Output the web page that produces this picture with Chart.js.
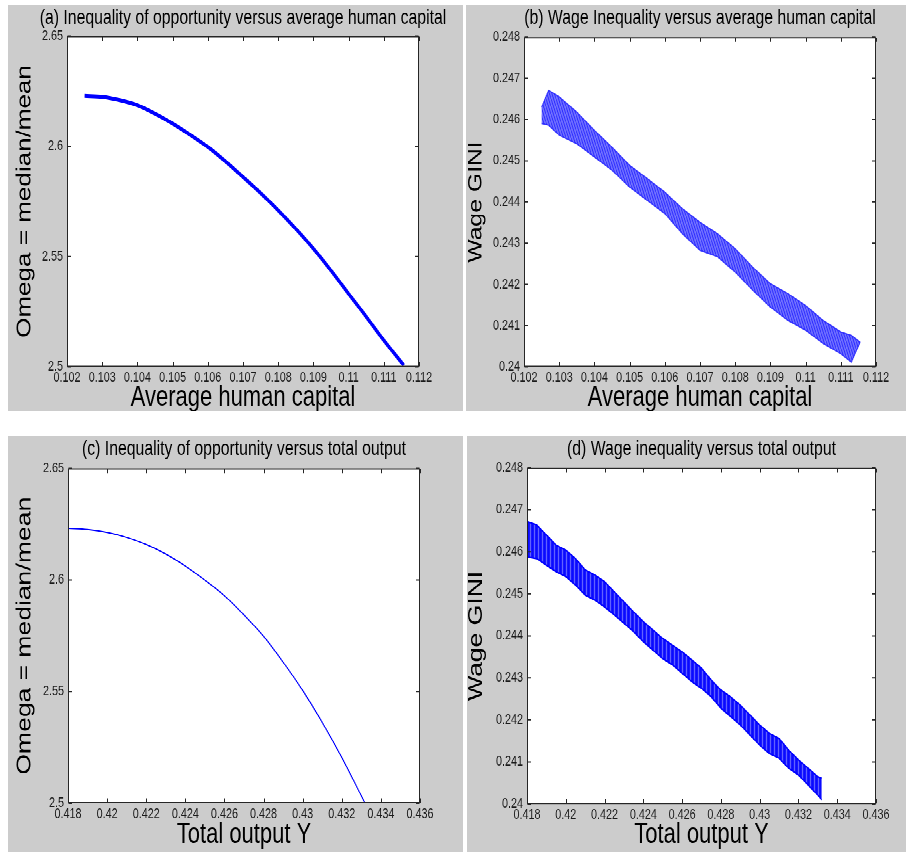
<!DOCTYPE html>
<html>
<head>
<meta charset="utf-8">
<script src="https://cdn.jsdelivr.net/npm/chart.js@4.4.0/dist/chart.umd.min.js"></script>
<style>
  body { margin: 0; background: #ffffff; width: 906px; height: 852px; position: relative; overflow: hidden; }
  /* the source figure is stretched vertically, so each panel is drawn short and scaled up */
  .panel { position: absolute; background: #cccccc; transform-origin: 0 0; }
  .panel canvas { display: block; }
</style>
</head>
<body>
<div class="panel" style="left:8px;top:5px;width:455px;height:312px;transform:scaleY(1.30128)"><canvas id="chartA"></canvas></div>
<div class="panel" style="left:466px;top:5px;width:440px;height:312px;transform:scaleY(1.30128)"><canvas id="chartB"></canvas></div>
<div class="panel" style="left:8px;top:436px;width:455px;height:320px;transform:scaleY(1.3)"><canvas id="chartC"></canvas></div>
<div class="panel" style="left:467px;top:436px;width:439px;height:320px;transform:scaleY(1.3)"><canvas id="chartD"></canvas></div>
<script>
// (a) Omega vs average human capital
const capitalA = [0.1025, 0.1030, 0.1035, 0.1040, 0.1045, 0.1050, 0.1055, 0.1060, 0.1065, 0.1070,
                  0.1075, 0.1080, 0.1085, 0.1090, 0.1095, 0.1100, 0.1105, 0.1110, 0.11157];
const omegaA = [2.6228, 2.6224, 2.6209, 2.6186, 2.6148, 2.6103, 2.6052, 2.5997, 2.5932, 2.5861,
                2.5788, 2.5710, 2.5626, 2.5536, 2.5437, 2.5332, 2.5228, 2.5121, 2.5008];

// (b) wage GINI band vs average human capital (upper / lower edge of the scatter)
const capitalB = [0.1025, 0.1027, 0.1030, 0.1035, 0.1040, 0.1045, 0.1050, 0.1055, 0.1060, 0.1065, 0.1070,
                  0.1075, 0.1080, 0.1085, 0.1090, 0.1095, 0.1100, 0.1105, 0.1110, 0.1113, 0.11155];
const giniUpperB = [0.2463, 0.24671, 0.24655, 0.24618, 0.24574, 0.24533, 0.24489, 0.24457, 0.24424, 0.24384, 0.24351,
                    0.24323, 0.24287, 0.24242, 0.24202, 0.24178, 0.24149, 0.24113, 0.24085, 0.24077, 0.2406];
const giniLowerB = [0.2459, 0.24586, 0.24562, 0.24541, 0.24509, 0.24477, 0.24436, 0.24404, 0.24372, 0.24323, 0.24283,
                    0.24267, 0.2423, 0.24186, 0.24145, 0.24113, 0.24089, 0.24057, 0.24032, 0.24012, 0.2406];

// (c) Omega vs total output
const outputC = [0.418, 0.419, 0.420, 0.421, 0.422, 0.423, 0.424, 0.425, 0.426, 0.427,
                 0.428, 0.429, 0.430, 0.431, 0.432, 0.433, 0.43319];
const omegaC = [2.6231, 2.6226, 2.6213, 2.6190, 2.6159, 2.6116, 2.6062, 2.5999, 2.5929, 2.5843,
                2.5748, 2.5632, 2.5505, 2.5362, 2.5205, 2.5033, 2.5000];

// (d) wage GINI band vs total output
const outputD = [0.418, 0.4185, 0.419, 0.4195, 0.420, 0.4205, 0.421, 0.4215, 0.422, 0.4225, 0.423,
                 0.4235, 0.424, 0.4245, 0.425, 0.4255, 0.426, 0.4265, 0.427, 0.4275, 0.428,
                 0.4285, 0.429, 0.4295, 0.430, 0.4305, 0.431, 0.4315, 0.432, 0.4325, 0.433, 0.4332];
const giniUpperD = [0.24672, 0.24664, 0.2464, 0.24616, 0.24604, 0.24584, 0.24557, 0.24545, 0.24529, 0.24505, 0.24481,
                    0.24457, 0.24434, 0.24414, 0.24394, 0.24378, 0.24362, 0.24343, 0.24323, 0.24295, 0.24271,
                    0.24255, 0.24235, 0.24212, 0.24188, 0.24168, 0.24156, 0.24128, 0.24105, 0.24085, 0.24065, 0.24061];
const giniLowerD = [0.24588, 0.24584, 0.24568, 0.24553, 0.24541, 0.24521, 0.24497, 0.24485, 0.24469, 0.2445, 0.2443,
                    0.2441, 0.24386, 0.24366, 0.24346, 0.24331, 0.24311, 0.24291, 0.24275, 0.24255, 0.24228,
                    0.24208, 0.24188, 0.24164, 0.2414, 0.2412, 0.24109, 0.24085, 0.24069, 0.24045, 0.24021, 0.2401];

// tick values and labels
const capitalTicks = [0.102, 0.103, 0.104, 0.105, 0.106, 0.107, 0.108, 0.109, 0.110, 0.111, 0.112];
const capitalLabels = ['0.102', '0.103', '0.104', '0.105', '0.106', '0.107', '0.108', '0.109', '0.11', '0.111', '0.112'];
const outputTicks = [0.418, 0.420, 0.422, 0.424, 0.426, 0.428, 0.430, 0.432, 0.434, 0.436];
const outputLabels = ['0.418', '0.42', '0.422', '0.424', '0.426', '0.428', '0.43', '0.432', '0.434', '0.436'];
const omegaTicks = [2.5, 2.55, 2.6, 2.65];
const omegaLabels = ['2.5', '2.55', '2.6', '2.65'];
const giniTicks = [0.240, 0.241, 0.242, 0.243, 0.244, 0.245, 0.246, 0.247, 0.248];
const giniLabels = ['0.24', '0.241', '0.242', '0.243', '0.244', '0.245', '0.246', '0.247', '0.248'];

const FONT = "'Liberation Sans', Arial, sans-serif";
const BLUE = '#0000ff';

function pts(xs, ys) {
    return xs.map((x, i) => ({ x: x, y: ys[i] }));
}

// small tiled texture so the dense scatter bands don't look like flat fills
function hatch(bg, stroke, w, h, segs) {
    const c = document.createElement('canvas');
    c.width = w; c.height = h;
    const g = c.getContext('2d');
    g.fillStyle = bg;
    g.fillRect(0, 0, w, h);
    g.strokeStyle = stroke;
    g.lineWidth = 1;
    g.beginPath();
    segs.forEach(s => { g.moveTo(s[0], s[1]); g.lineTo(s[2], s[3]); });
    g.stroke();
    return g.createPattern(c, 'repeat');
}

// white plot box with matlab-style inward ticks on all four sides
const plotFrame = {
    id: 'plotFrame',
    beforeDraw(chart) {
        const { ctx, chartArea: a } = chart;
        ctx.save();
        ctx.fillStyle = '#ffffff';
        ctx.fillRect(a.left, a.top, a.right - a.left, a.bottom - a.top);
        ctx.restore();
    },
    afterDraw(chart) {
        const { ctx, chartArea: a, scales } = chart;
        const L = a.left + 0.5, R = a.right - 0.5, T = a.top + 0.5, B = a.bottom - 0.5;
        ctx.save();
        ctx.strokeStyle = '#262626';
        ctx.lineWidth = 1;
        ctx.beginPath();
        scales.x.ticks.forEach(t => {
            const px = Math.round(scales.x.getPixelForValue(t.value)) + 0.5;
            ctx.moveTo(px, B); ctx.lineTo(px, B - 3.3);
            ctx.moveTo(px, T); ctx.lineTo(px, T + 3.3);
        });
        scales.y.ticks.forEach(t => {
            const py = scales.y.getPixelForValue(t.value);
            ctx.moveTo(L, py); ctx.lineTo(L + 3.5, py);
            ctx.moveTo(R, py); ctx.lineTo(R - 3.5, py);
        });
        ctx.rect(L, T, R - L, B - T);
        ctx.stroke();
        ctx.restore();
    }
};

// panel caption centred over the plot box (it is wider than the box, so not clipped to it)
const panelTitle = {
    id: 'panelTitle',
    afterDraw(chart, args, opts) {
        const { ctx, chartArea: a } = chart;
        ctx.save();
        ctx.font = '15.8px ' + FONT;
        ctx.fillStyle = '#000000';
        ctx.textAlign = 'center';
        ctx.textBaseline = 'alphabetic';
        ctx.fillText(opts.text, (a.left + a.right) / 2, opts.y);
        ctx.restore();
    }
};

function makePanel(id, o) {
    return new Chart(document.getElementById(id), {
        type: 'line',
        data: { datasets: o.datasets },
        options: {
            responsive: true,
            maintainAspectRatio: false,
            animation: false,
            devicePixelRatio: 2,
            layout: { padding: { top: o.padTop, right: o.padRight } },
            plugins: {
                legend: { display: false },
                tooltip: { enabled: false },
                title: { display: false },
                panelTitle: { text: o.title, y: 14.5 }
            },
            scales: {
                x: {
                    type: 'linear',
                    min: o.xTicks[0],
                    max: o.xTicks[o.xTicks.length - 1],
                    afterBuildTicks: s => { s.ticks = o.xTicks.map(v => ({ value: v })); },
                    afterFit: s => { s.height = o.xHeight; },
                    grid: { display: false, drawTicks: false },
                    border: { display: false },
                    ticks: {
                        autoSkip: false, maxRotation: 0, padding: 2, color: '#1a1a1a',
                        font: { family: FONT, size: 10.8 },
                        callback: (v, i) => o.xLabels[i]
                    },
                    title: {
                        display: true, text: o.xTitle, color: '#000000',
                        font: { family: FONT, size: 22, lineHeight: '20px' },
                        padding: { top: 0, bottom: o.xTitlePad }
                    }
                },
                y: {
                    type: 'linear',
                    min: o.yTicks[0],
                    max: o.yTicks[o.yTicks.length - 1],
                    afterBuildTicks: s => { s.ticks = o.yTicks.map(v => ({ value: v })); },
                    afterFit: s => { s.width = o.yWidth; },
                    grid: { display: false, drawTicks: false },
                    border: { display: false },
                    ticks: {
                        autoSkip: false, padding: 4, color: '#1a1a1a',
                        font: { family: FONT, size: 10.8 },
                        callback: (v, i) => o.yLabels[i]
                    },
                    title: {
                        display: true, text: o.yTitle, color: '#000000',
                        font: { family: FONT, size: o.yTitleSize, lineHeight: '18px' },
                        padding: { top: o.yTitlePad, bottom: 0 }
                    }
                }
            }
        },
        plugins: [plotFrame, panelTitle]
    });
}

const hatchB = hatch('rgba(60, 60, 255, 0.6)', 'rgba(0, 0, 255, 0.95)', 5, 6, [[0, 0, 2.5, 6], [2.5, 0, 5, 6]]);
const hatchD = hatch('#0a0aff', 'rgba(140, 140, 255, 0.9)', 4, 4, [[3.5, 0, 3.5, 4]]);

makePanel('chartA', {
    title: '(a) Inequality of opportunity versus average human capital',
    xTitle: 'Average human capital', yTitle: 'Omega = median/mean', yTitleSize: 20,
    xTicks: capitalTicks, xLabels: capitalLabels, yTicks: omegaTicks, yLabels: omegaLabels,
    yWidth: 59, xHeight: 33.8, padTop: 23.8, padRight: 44, xTitlePad: 0, yTitlePad: 8,
    datasets: [{
        data: pts(capitalA, omegaA), borderColor: BLUE, borderWidth: 3,
        pointRadius: 0, cubicInterpolationMode: 'monotone', fill: false
    }]
});

makePanel('chartB', {
    title: '(b) Wage Inequality versus average human capital',
    xTitle: 'Average human capital', yTitle: 'Wage GINI', yTitleSize: 19,
    xTicks: capitalTicks, xLabels: capitalLabels, yTicks: giniTicks, yLabels: giniLabels,
    yWidth: 58, xHeight: 33.8, padTop: 24.6, padRight: 30, xTitlePad: 0, yTitlePad: 1.5,
    datasets: [{
        data: pts(capitalB, giniUpperB), borderColor: 'rgba(30, 30, 255, 0.8)', borderWidth: 1,
        pointRadius: 0, tension: 0, fill: false
    }, {
        data: pts(capitalB, giniLowerB), borderColor: 'rgba(30, 30, 255, 0.8)', borderWidth: 1,
        pointRadius: 0, tension: 0, fill: '-1', backgroundColor: hatchB
    }]
});

makePanel('chartC', {
    title: '(c) Inequality of opportunity versus total output',
    xTitle: 'Total output Y', yTitle: 'Omega = median/mean', yTitleSize: 20.4,
    xTicks: outputTicks, xLabels: outputLabels, yTicks: omegaTicks, yLabels: omegaLabels,
    yWidth: 60, xHeight: 37.5, padTop: 24.8, padRight: 43, xTitlePad: 3, yTitlePad: 8,
    datasets: [{
        data: pts(outputC, omegaC), borderColor: BLUE, borderWidth: 1,
        pointRadius: 0, cubicInterpolationMode: 'monotone', fill: false
    }]
});

makePanel('chartD', {
    title: '(d) Wage inequality versus total output',
    xTitle: 'Total output Y', yTitle: 'Wage GINI', yTitleSize: 20.4,
    xTicks: outputTicks, xLabels: outputLabels, yTicks: giniTicks, yLabels: giniLabels,
    yWidth: 60, xHeight: 36.9, padTop: 24.4, padRight: 30, xTitlePad: 3, yTitlePad: 0.5,
    datasets: [{
        data: pts(outputD, giniUpperD), borderColor: BLUE, borderWidth: 1.2,
        pointRadius: 0, tension: 0, fill: false
    }, {
        data: pts(outputD, giniLowerD), borderColor: BLUE, borderWidth: 1.2,
        pointRadius: 0, tension: 0, fill: '-1', backgroundColor: hatchD
    }]
});
</script>
</body>
</html>
